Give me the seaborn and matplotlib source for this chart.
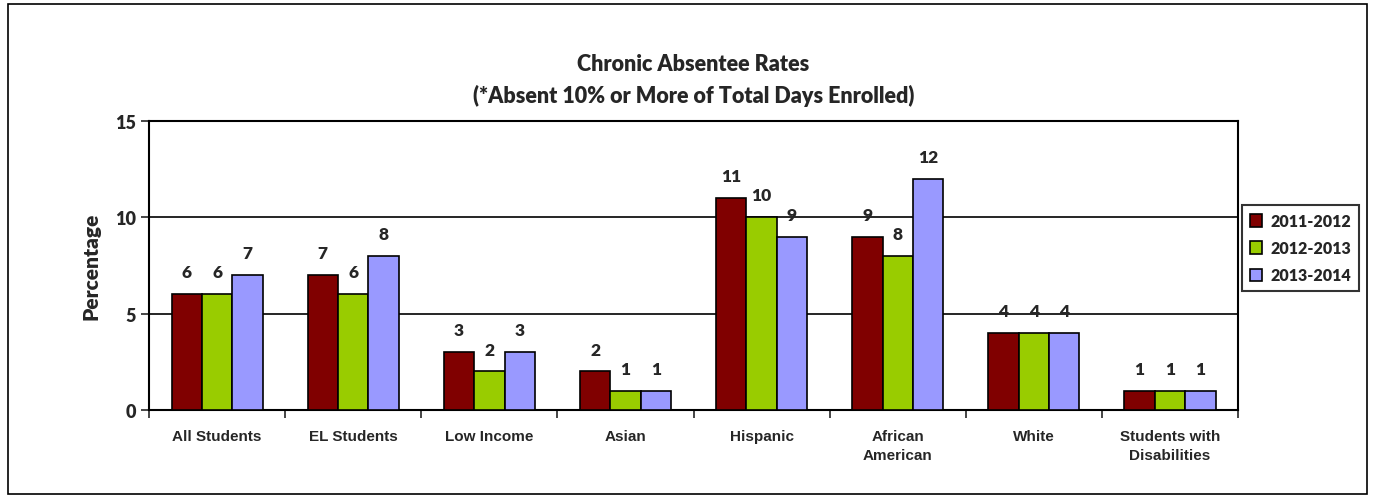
import matplotlib
matplotlib.use("Agg")
import pandas as pd
import seaborn as sns
from matplotlib import pyplot as plt
from matplotlib.patches import Rectangle
from matplotlib.ticker import FixedLocator, NullFormatter

groups = ["All Students", "EL Students", "Low Income", "Asian", "Hispanic",
          "African\nAmerican", "White", "Students with\nDisabilities"]
years = ["2011-2012", "2012-2013", "2013-2014"]
rate_2011 = [6, 7, 3, 2, 11, 9, 4, 1]
rate_2012 = [6, 6, 2, 1, 10, 8, 4, 1]
rate_2013 = [7, 8, 3, 1, 9, 12, 4, 1]
colors = ["#800000", "#99CC00", "#9999FF"]

df = pd.DataFrame({
    "group": groups * 3,
    "year": [y for y in years for _ in groups],
    "rate": rate_2011 + rate_2012 + rate_2013,
})

sns.set_style("white")
plt.rcParams["font.family"] = ["Lato", "DejaVu Sans"]

fig = plt.figure(figsize=(13.75, 5.02), dpi=100)
ax = fig.add_axes([0.1084, 0.1813, 0.7920, 0.5757])

sns.barplot(data=df, x="group", y="rate", hue="year", palette=colors,
            saturation=1, width=0.67, gap=0, edgecolor="black", linewidth=1.2,
            errorbar=None, ax=ax, zorder=3)

for c in ax.containers:
    ax.bar_label(c, padding=10, fontsize=12.5, fontweight="heavy")

ax.set_ylim(0, 15)
ax.set_xlim(-0.5, len(groups) - 0.5)
ax.set_yticks([0, 5, 10, 15])
ax.yaxis.grid(True, color="black", linewidth=1.2, zorder=0)
ax.tick_params(axis="y", direction="out", length=6, width=1.2, left=True,
               labelsize=13)
for t in ax.get_yticklabels():
    t.set_fontweight("heavy")

ax.set_xticks(range(len(groups)))
ax.set_xticklabels(groups, fontsize=11, fontweight="bold",
                   family="Liberation Sans", linespacing=1.4)
ax.tick_params(axis="x", which="major", length=0, pad=14)
ax.xaxis.set_minor_locator(FixedLocator([i - 0.5 for i in range(len(groups) + 1)]))
ax.xaxis.set_minor_formatter(NullFormatter())
ax.tick_params(axis="x", which="minor", direction="out", length=6, width=1.2,
               bottom=True)

for s in ax.spines.values():
    s.set_color("black")
    s.set_linewidth(1.5)

ax.set_xlabel("")
ax.set_ylabel("Percentage", fontsize=15, fontweight="heavy", labelpad=10)

ax.set_title("Chronic Absentee Rates\n(*Absent 10% or More of Total Days Enrolled)",
             fontsize=15.5, fontweight="heavy", linespacing=1.5, pad=14)

leg = ax.legend(loc="center left", bbox_to_anchor=(0.996, 0.56), frameon=True,
                fancybox=False, edgecolor="black", fontsize=11.5,
                handlelength=0.8, handleheight=0.8, handletextpad=0.5,
                borderpad=0.5, labelspacing=0.7, title=None)
leg.get_frame().set_linewidth(1.5)
for t in leg.get_texts():
    t.set_fontweight("heavy")

fig.patches.append(Rectangle((0.006, 0.014), 0.988, 0.976, transform=fig.transFigure,
                             fill=False, edgecolor="black", linewidth=1.2))

fig.savefig("out.png", dpi=100)
